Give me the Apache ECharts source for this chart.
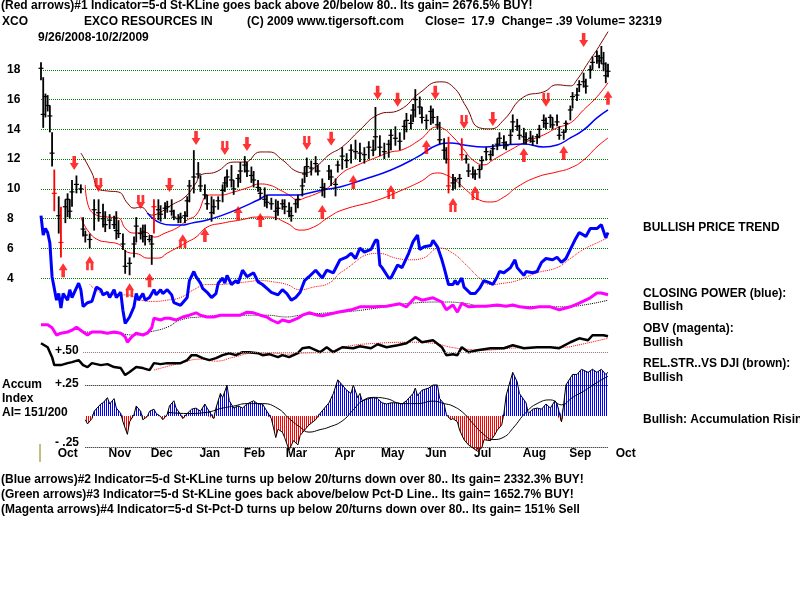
<!DOCTYPE html>
<html>
<head>
<meta charset="utf-8">
<script src="https://cdn.jsdelivr.net/npm/echarts@6/dist/echarts.min.js"></script>
<style>
html, body { margin: 0; padding: 0; background: #fff; }
#main { width: 800px; height: 600px; }
</style>
</head>
<body>
<div id="main"></div>
<script>
// x values are trading-day numbers: 0 = 9/26/2008 ... 256 = 10/2/2009
const monthStarts = [3, 26, 45, 67, 87, 106, 128, 149, 169, 191, 213, 234, 255];
const monthNames = ['Oct', 'Nov', 'Dec', 'Jan', 'Feb', 'Mar', 'Apr', 'May', 'Jun', 'Jul', 'Aug', 'Sep', 'Oct'];
const priceTicks = [4, 6, 8, 10, 12, 14, 16, 18];

// [day, high, low, close, redBar]
const bars = [
  [0,18.5,17.3,18.1,0],[1,17.5,14.1,15.0,0],[2,16.4,14.8,16.2,0],[3,16.3,15.2,15.6,0],[4,15.6,13.8,14.9,0],
  [5,13.8,11.5,12.4,0],[6,11.3,8.5,9.7,1],[8,9.5,7.0,8.2,0],[9,8.8,5.4,6.4,1],[11,9.3,7.7,8.8,0],
  [12,9.7,8.1,9.3,0],[13,9.3,8.0,8.5,0],[14,10.6,8.8,9.8,0],[16,10.9,9.7,10.3,0],[18,10.3,9.7,10.0,0],
  [19,8.1,6.8,7.3,0],[20,7.2,6.4,6.9,0],[22,7.0,6.0,6.6,0],[24,9.3,7.2,8.6,0],[26,9.3,7.8,8.4,0],
  [28,9.0,7.4,8.0,0],[29,8.5,7.1,7.6,0],[31,8.3,7.3,7.9,0],[33,8.2,7.3,7.6,0],[34,8.5,6.6,7.2,0],
  [35,7.9,6.7,7.0,0],[37,7.0,5.9,6.3,0],[38,5.9,4.3,4.8,0],[40,5.4,4.2,5.0,0],[42,6.8,5.4,6.3,0],
  [43,8.1,6.4,7.5,0],[45,7.4,6.6,7.0,0],[46,7.6,6.4,7.1,0],[47,7.6,6.2,6.8,0],[49,6.9,6.4,6.6,0],
  [50,6.9,4.9,6.3,0],[51,9.3,7.0,8.8,1],[53,9.3,7.9,8.6,0],[54,8.9,7.8,8.3,0],[56,9.1,8.0,8.7,0],
  [57,9.2,8.4,8.8,0],[59,9.3,8.2,8.5,0],[60,8.6,7.9,8.1,0],[62,8.3,7.7,8.0,0],[63,8.4,7.7,8.1,0],
  [65,8.5,7.7,8.2,0],[66,9.5,8.1,9.2,0],[67,10.6,9.1,10.2,0],[69,12.6,9.7,10.8,0],[71,11.8,10.7,11.0,0],
  [72,10.9,9.8,10.2,0],[74,10.3,9.3,9.6,0],[75,9.6,8.6,9.0,0],[77,9.5,7.8,8.4,0],[78,9.3,8.3,8.8,0],
  [80,9.5,8.6,9.2,0],[82,10.3,9.1,9.9,0],[83,10.8,9.8,10.4,0],[84,11.3,10.1,10.8,0],[86,11.6,10.1,10.6,0],
  [87,10.6,9.6,10.0,0],[89,11.0,10.1,10.7,0],[90,11.8,10.4,11.2,0],[92,12.2,11.1,11.6,0],[93,11.8,10.8,11.2,0],
  [95,11.5,10.4,10.9,0],[96,11.2,10.1,10.6,0],[98,10.6,9.8,10.1,0],[99,10.1,9.3,9.7,0],[101,10.1,8.8,9.3,0],
  [102,9.6,8.7,9.1,0],[104,9.4,8.6,9.0,0],[106,9.3,7.9,8.5,0],[107,9.2,8.2,8.7,0],[109,9.3,8.6,9.0,0],
  [110,9.3,8.3,8.8,0],[112,9.1,8.1,8.5,0],[113,8.8,7.8,8.2,0],[115,9.3,8.4,9.0,0],[116,9.6,8.7,9.3,0],
  [118,10.7,9.5,10.2,0],[119,11.5,10.4,11.0,0],[120,12.1,10.8,11.5,0],[122,11.9,10.9,11.4,0],[124,12.2,11.1,11.7,0],
  [125,11.6,10.9,11.2,0],[127,10.7,9.5,10.1,0],[128,10.4,9.4,10.0,0],[130,11.6,10.6,11.2,0],[131,11.3,10.2,10.8,0],
  [133,10.7,9.5,10.3,0],[134,11.9,11.1,11.6,0],[136,12.8,11.3,12.2,0],[138,12.4,11.4,11.9,0],[140,13.0,11.7,12.6,0],
  [142,13.3,12.0,12.5,0],[144,13.1,11.8,12.4,0],[146,12.8,11.7,12.3,0],[148,13.2,12.0,12.8,0],[150,13.3,12.2,12.6,0],
  [151,15.5,12.6,13.5,0],[153,13.6,12.2,12.8,0],[155,13.1,12.0,12.5,0],[157,13.3,12.1,13.0,0],[158,14.0,12.6,13.6,0],
  [160,14.2,12.9,13.4,0],[162,13.8,12.6,13.2,0],[164,14.6,13.3,14.2,0],[165,15.1,13.8,14.6,0],[167,15.0,14.0,14.4,0],
  [168,15.7,14.5,15.3,0],[169,16.7,14.8,16.0,0],[171,16.2,15.0,15.5,0],[172,15.5,14.4,14.8,0],[174,15.0,14.0,14.6,0],
  [176,15.6,14.3,15.2,0],[177,15.4,14.4,14.8,0],[179,14.9,14.0,14.3,0],[180,14.5,13.0,13.3,0],[182,13.4,12.0,12.6,0],
  [183,12.8,11.7,12.0,0],[184,13.5,9.7,10.2,1],[186,11.0,9.9,10.4,0],[187,10.8,10.0,10.6,0],[189,11.0,10.1,10.7,0],
  [190,13.4,11.9,12.3,1],[192,12.3,11.7,12.0,0],[193,11.7,10.8,11.2,0],[195,11.5,10.7,11.0,0],[196,11.3,10.6,11.0,0],
  [198,11.6,10.7,11.3,0],[199,12.2,11.3,11.9,0],[201,12.8,11.9,12.5,0],[203,12.6,11.9,12.3,0],[204,13.0,12.2,12.7,0],
  [206,13.4,12.6,13.0,0],[207,13.8,12.9,13.4,0],[209,13.6,12.7,13.1,0],[210,13.2,12.6,12.9,0],[212,14.0,13.0,13.6,0],
  [213,15.0,13.8,14.5,0],[215,14.7,13.9,14.2,0],[216,14.3,13.3,13.6,0],[218,14.1,13.0,13.5,0],[219,13.8,13.0,13.3,0],
  [221,13.9,13.1,13.4,0],[222,13.6,12.9,13.2,0],[224,13.7,13.0,13.5,0],[225,14.3,13.4,14.0,0],[227,15.0,14.1,14.6,0],
  [228,14.8,14.0,14.4,0],[230,15.0,14.1,14.8,0],[231,14.8,14.0,14.3,0],[233,15.0,14.2,14.5,0],[234,14.2,13.3,13.6,0],
  [236,14.0,13.3,13.8,0],[237,14.6,13.8,14.4,0],[239,15.6,14.6,15.3,0],[240,16.5,15.4,16.2,0],[242,16.8,15.9,16.3,0],
  [243,17.3,16.5,17.0,0],[245,17.8,16.8,17.2,0],[246,17.4,16.4,16.9,0],[248,18.3,17.4,18.0,0],[249,18.9,18.0,18.5,0],
  [251,19.3,18.4,18.9,0],[252,19.0,18.1,18.6,0],[253,19.6,18.4,18.8,0],[254,19.2,17.9,18.4,0],[255,18.5,17.1,17.6,0],
  [256,18.4,17.5,17.9,0]
];

const upperBand = [[18,12.41],[23,11.07],[26,9.99],[30,9.86],[35,9.79],[39,9.05],[42,8.71],[45,8.78],[50,8.24],[54,8.44],[59,8.92],[65,9.45],[70,10.4],[72,10.93],[79,11.14],[87,11.8],[92,11.8],[99,12.48],[103,12.48],[109,11.94],[116,11.14],[119,11.07],[125,11.6],[130,12.28],[136,12.82],[144,13.96],[152,14.97],[162,15.31],[171,16.45],[180,17.19],[186,16.86],[192,15.51],[198,14.1],[203,14.03],[209,14.64],[218,16.18],[227,16.52],[233,16.99],[239,16.92],[242,17.33],[247,18.47],[251,19.35],[256,20.56]];
const middleBand = [[20,10.26],[21,9.05],[25,8.24],[30,8.11],[35,8.04],[38,7.37],[42,7.03],[47,7.1],[51,6.76],[56,7.03],[62,7.43],[66,7.91],[70,8.24],[76,9.59],[81,9.59],[87,9.79],[93,10.06],[99,10.33],[103,10.26],[108,9.92],[112,9.59],[116,9.25],[119,9.39],[125,9.72],[130,10.13],[136,11.07],[141,11.47],[152,12.15],[158,12.48],[163,12.62],[171,13.29],[179,14.16],[181,14.1],[186,13.49],[191,12.62],[195,11.94],[200,11.61],[204,11.94],[212,12.62],[218,13.09],[227,13.63],[233,14.1],[239,14.43],[245,15.31],[251,16.18],[256,17.13]];
const lowerBand = [[18,8.11],[21,7.23],[26,6.56],[30,6.43],[35,6.29],[39,5.75],[44,5.62],[48,5.35],[53,5.35],[57,5.69],[62,6.09],[66,6.43],[70,6.76],[75,7.43],[82,7.7],[90,7.91],[98,8.11],[103,8.11],[111,7.7],[117,7.23],[123,7.43],[130,8.11],[136,8.58],[152,9.25],[163,9.92],[171,10.46],[179,11.07],[183,10.93],[188,10.46],[192,9.92],[198,9.25],[203,9.12],[209,9.45],[215,10.13],[224,10.8],[233,11.14],[239,11.4],[245,11.94],[251,12.82],[256,13.42]];
const priceMA = [[48,8.38],[54,7.7],[59,7.57],[63,7.57],[68,7.7],[75,7.91],[82,8.24],[90,8.71],[98,9.25],[103,9.59],[109,9.59],[116,9.59],[121,9.72],[127,9.92],[135,10.13],[145,10.6],[158,11.27],[170,12.15],[179,12.95],[185,13.09],[191,12.95],[200,12.82],[209,12.95],[218,13.02],[227,12.82],[233,12.95],[239,13.42],[245,13.96],[251,14.77],[256,15.31]];

const sellArrows = [[15,11.74],[58,10.26],[70,13.42],[93,13.02],[131,13.36],[152,16.45],[161,15.98],[178,16.45],[204,14.7],[245,20.0]];
const sellArrows2 = [[26,10.26],[45,9.12],[83,12.75],[120,13.09],[191,14.5],[228,15.98]];
const buyArrows = [[10,4.54],[49,3.87],[74,6.9],[89,8.38],[99,7.91],[127,8.44],[141,10.46],[174,12.82],[218,12.28],[236,12.41],[256,16.12]];
const buyArrows2 = [[22,5.01],[40,3.2],[64,6.49],[158,9.79],[186,8.92],[196,9.72]];

const closingPower = [[0,88],[1,73],[2,78],[3,75],[4,67],[5,41],[7,23],[8,28],[9,17],[10,28],[12,23],[13,31],[14,25],[17,36],[18,31],[19,18],[21,21],[23,22],[25,33],[27,31],[28,27],[30,29],[31,25],[33,31],[34,25],[36,29],[37,15],[38,5],[40,10],[42,18],[43,28],[44,23],[46,28],[47,23],[49,25],[51,31],[52,27],[54,31],[55,28],[57,31],[59,27],[60,21],[63,19],[64,21],[66,25],[67,38],[69,45],[70,41],[72,36],[73,32],[75,29],[77,25],[79,28],[80,36],[82,40],[83,36],[84,42],[86,35],[88,38],[89,36],[91,46],[93,41],[96,44],[98,37],[100,35],[102,32],[104,29],[107,27],[109,31],[111,28],[113,23],[115,25],[117,29],[119,38],[121,41],[124,46],[127,40],[129,46],[132,44],[135,54],[138,56],[140,59],[142,55],[144,63],[146,60],[149,62],[151,69],[152,69],[153,50],[154,48],[157,40],[158,40],[161,50],[163,48],[166,59],[168,68],[170,73],[171,62],[173,64],[176,65],[177,69],[179,64],[181,54],[182,48],[184,35],[186,35],[187,38],[188,35],[190,40],[191,33],[194,28],[196,28],[198,32],[200,38],[203,36],[204,35],[206,41],[207,45],[209,44],[212,48],[214,54],[215,48],[218,42],[219,45],[222,44],[224,45],[226,52],[228,55],[231,54],[233,56],[235,52],[237,55],[239,62],[241,69],[243,75],[246,72],[248,78],[251,78],[253,81],[255,71],[256,75]];
const closingPowerMA = [[22,35],[31,27],[39,27],[45,23],[51,22],[57,23],[63,25],[69,31],[75,35],[81,35],[87,36],[93,37],[99,38],[105,37],[111,35],[117,31],[123,33],[130,36],[136,45],[152,59],[161,55],[167,54],[172,55],[180,63],[186,59],[192,50],[198,40],[203,35],[209,36],[215,38],[224,44],[233,48],[239,55],[245,62],[251,67],[256,71]];

const obv = [[0,42],[3,42],[5,37],[7,25],[9,28],[12,30],[14,33],[16,38],[19,30],[21,25],[23,30],[27,30],[30,28],[33,30],[36,28],[38,22],[39,13],[41,22],[43,28],[46,25],[48,28],[50,37],[51,53],[54,50],[56,53],[58,53],[61,50],[64,55],[67,58],[70,62],[72,58],[75,55],[78,55],[81,58],[84,58],[87,58],[90,58],[93,63],[96,62],[99,58],[102,55],[104,50],[107,45],[109,50],[112,47],[116,53],[118,58],[121,62],[125,58],[127,57],[134,63],[140,67],[144,72],[150,72],[156,73],[162,77],[165,72],[169,88],[172,83],[177,87],[181,80],[183,67],[186,75],[188,63],[190,78],[193,72],[197,73],[201,73],[206,75],[210,73],[213,75],[216,72],[221,70],[225,72],[230,72],[234,67],[239,72],[243,78],[248,87],[251,95],[253,95],[256,92]];
const obvMA = [[19,30],[34,28],[42,25],[49,30],[57,38],[63,50],[72,55],[87,58],[102,58],[111,55],[117,58],[130,62],[136,63],[152,70],[167,78],[182,80],[191,78],[200,73],[212,73],[227,72],[236,72],[245,75],[256,83]];

const relStrength = [[0,.552],[3,.528],[5,.468],[6,.42],[9,.42],[12,.432],[14,.438],[17,.45],[19,.42],[21,.408],[23,.432],[27,.42],[30,.426],[33,.408],[36,.402],[38,.36],[40,.378],[43,.408],[46,.402],[49,.39],[51,.432],[54,.426],[57,.432],[60,.432],[63,.432],[66,.45],[68,.48],[70,.48],[73,.462],[76,.45],[79,.462],[82,.48],[85,.492],[88,.48],[91,.498],[94,.498],[98,.492],[100,.48],[103,.486],[107,.468],[109,.48],[112,.468],[116,.492],[118,.522],[121,.528],[126,.498],[129,.528],[132,.498],[136,.528],[141,.522],[144,.534],[149,.522],[152,.546],[156,.528],[161,.54],[165,.552],[169,.588],[172,.558],[177,.57],[181,.528],[183,.48],[186,.486],[188,.48],[190,.528],[193,.498],[197,.51],[203,.522],[209,.522],[213,.54],[218,.522],[224,.528],[230,.528],[234,.522],[239,.558],[243,.582],[247,.57],[249,.6],[254,.6],[256,.594]];
const relStrengthMA = [[51,.39],[63,.432],[72,.456],[79,.444],[87,.468],[96,.492],[105,.492],[111,.486],[117,.492],[130,.498],[136,.528],[152,.552],[167,.558],[177,.552],[185,.528],[192,.516],[200,.51],[212,.522],[227,.528],[236,.528],[242,.54],[256,.582]];

const accum = [[20,-.03],[21,-.064],[23,-.021],[24,.038],[27,.097],[28,.106],[30,.148],[31,.097],[33,.14],[34,.064],[36,.021],[37,-.047],[39,-.148],[40,-.047],[42,.013],[43,.081],[45,.038],[46,-.03],[48,-.004],[49,.038],[51,.055],[52,.021],[54,-.004],[55,-.03],[57,.013],[58,.081],[60,.123],[61,.064],[63,.013],[64,-.021],[66,.021],[68,.055],[70,.064],[72,.038],[74,.097],[75,.064],[78,-.021],[79,.064],[81,.182],[82,.148],[84,.25],[85,.123],[87,.064],[89,.081],[91,.064],[93,.097],[96,.123],[98,.097],[100,.097],[102,.038],[104,-.021],[106,-.174],[107,-.106],[109,-.131],[110,-.174],[112,-.275],[114,-.199],[116,-.233],[117,-.157],[119,-.114],[121,-.072],[124,-.03],[126,.021],[128,.064],[130,.106],[132,.182],[134,.292],[136,.25],[138,.208],[140,.182],[141,.25],[143,.148],[144,.182],[145,.123],[148,.14],[150,.148],[152,.14],[154,.106],[156,.097],[158,.106],[161,.106],[163,.097],[165,.123],[168,.182],[169,.225],[170,.165],[172,.208],[175,.225],[177,.25],[179,.25],[180,.14],[182,.097],[183,.013],[185,-.03],[186,-.021],[188,-.047],[189,-.114],[191,-.191],[193,-.233],[195,-.258],[197,-.284],[199,-.258],[200,-.191],[203,-.199],[205,-.148],[206,-.114],[208,-.072],[209,.021],[210,.165],[212,.292],[213,.352],[215,.275],[216,.182],[219,.106],[220,.021],[222,.055],[224,.064],[226,.055],[228,.097],[230,.064],[232,.123],[233,.097],[235,-.047],[236,.097],[237,.25],[240,.335],[242,.335],[244,.377],[247,.352],[249,.377],[251,.352],[253,.377],[255,.335],[256,.352]];
const accumMA = [[57,.03],[66,.02],[75,.03],[81,.06],[87,.08],[93,.1],[100,.1],[107,.06],[112,-.02],[117,-.09],[121,-.13],[126,-.11],[130,-.09],[136,-.04],[141,.05],[145,.12],[150,.15],[156,.14],[163,.1],[170,.1],[177,.12],[182,.1],[186,.08],[191,.02],[195,-.06],[200,-.15],[204,-.19],[209,-.17],[213,-.1],[219,.03],[224,.1],[230,.13],[235,.09],[240,.15],[245,.2],[251,.27],[256,.32]];

const headerLines = [
  ['(Red arrows)#1 Indicator=5-d St-KLine goes back above 20/below 80.. Its gain= 2676.5% BUY!', 1, 7],
  ['XCO', 2, 23], ['EXCO RESOURCES IN', 84, 23], ['(C) 2009 www.tigersoft.com', 247, 23],
  ['Close=  17.9  Change= .39 Volume= 32319', 425, 23],
  ['9/26/2008-10/2/2009', 38, 39]
];
const footerLines = [
  ['(Blue arrows)#2 Indicator=5-d St-KLine turns up below 20/turns down over 80.. Its gain= 2332.3% BUY!', 1, 481],
  ['(Green arrows)#3 Indicator=5-d St-KLine goes back above/below Pct-D Line.. Its gain= 1652.7% BUY!', 1, 496],
  ['(Magenta arrows)#4 Indicator=5-d St-Pct-D turns up below 20/turns down over 80.. Its gain= 151% Sell', 1, 511]
];
const sideNotes = [
  ['BULLISH PRICE TREND', 643, 229],
  ['CLOSING POWER (blue):', 643, 295], ['Bullish', 643, 308],
  ['OBV (magenta):', 643, 330], ['Bullish', 643, 344],
  ['REL.STR..VS DJI (brown):', 643, 365], ['Bullish', 643, 379],
  ['Bullish: Accumulation Rising', 643, 421],
  ['Accum', 2, 386], ['Index', 2, 400], ['AI= 151/200', 2, 414],
  ['+.50', 55, 352], ['+.25', 55, 385], ['- .25', 55, 444]
];

const FONT = 'Liberation Sans';
const LAST = 256;

const arrowDown = 'path://M3,0 L7,0 L7,7 L10,7 L5,14 L0,7 L3,7 Z';
const arrowUp = 'path://M3,14 L7,14 L7,7 L10,7 L5,0 L0,7 L3,7 Z';
const arrowDown2 = 'path://M1,0 L4,0 L4,7 L6,7 L6,0 L9,0 L9,7 L10,7 L5,14 L0,7 L1,7 Z';
const arrowUp2 = 'path://M1,14 L4,14 L4,7 L6,7 L6,14 L9,14 L9,7 L10,7 L5,0 L0,7 L1,7 Z';

function stripes(color) {
  const c = document.createElement('canvas');
  c.width = 2; c.height = 2;
  const g = c.getContext('2d');
  g.fillStyle = color;
  g.fillRect(0, 0, 1, 2);
  return { image: c, repeat: 'repeat' };
}

function renderBar(params, api) {
  const d = api.value(0);
  const hi = api.coord([d, api.value(1)]);
  const lo = api.coord([d, api.value(2)]);
  const cl = api.coord([d, api.value(3)]);
  const color = api.value(4) ? '#ff0000' : '#000000';
  return {
    type: 'group',
    children: [
      { type: 'line', shape: { x1: hi[0], y1: hi[1], x2: lo[0], y2: lo[1] }, style: { stroke: color, lineWidth: 1.8 } },
      { type: 'line', shape: { x1: cl[0] - 2.5, y1: cl[1], x2: cl[0] + 2.5, y2: cl[1] }, style: { stroke: color, lineWidth: 1.2 } }
    ]
  };
}

function textItems(list) {
  return list.map(t => ({
    type: 'text', left: t[1], top: t[2] - 7, silent: true,
    style: { text: t[0], font: 'bold 12px "' + FONT + '"', fill: '#000' }
  }));
}

function lineSeries(data, grid, color, width, type, extra) {
  return Object.assign({
    type: 'line', data: data, xAxisIndex: grid, yAxisIndex: grid,
    showSymbol: false, symbol: 'none', smooth: false, clip: false,
    lineStyle: { color: color, width: width, type: type || 'solid' },
    emphasis: { disabled: true }, z: 3
  }, extra || {});
}

function arrowSeries(data, path) {
  return {
    type: 'scatter', data: data, xAxisIndex: 0, yAxisIndex: 0,
    symbol: path, symbolSize: [9, 14], clip: false,
    itemStyle: { color: '#ff0000' }, z: 6, emphasis: { disabled: true }
  };
}

const hiddenX = i => ({ gridIndex: i, type: 'value', min: 0, max: LAST, show: false });
const hiddenY = (i, min, max) => ({ gridIndex: i, type: 'value', min: min, max: max, show: false });

const chart = echarts.init(document.getElementById('main'), null, { renderer: 'canvas' });
chart.setOption({
  animation: false,
  backgroundColor: '#ffffff',
  grid: [
    { left: 41, right: 192, top: 40, height: 268, outerBoundsMode: 'none' },   // price
    { left: 41, right: 192, top: 200, height: 130, outerBoundsMode: 'none' },  // closing power
    { left: 41, right: 192, top: 290, height: 60, outerBoundsMode: 'none' },   // OBV
    { left: 41, right: 192, top: 327, height: 58, outerBoundsMode: 'none' },   // rel. strength
    { left: 41, right: 192, top: 385, height: 62, outerBoundsMode: 'none' }    // accumulation
  ],
  xAxis: [
    hiddenX(0), hiddenX(1), hiddenX(2), hiddenX(3),
    {
      gridIndex: 4, type: 'value', min: 0, max: LAST,
      axisLine: { show: false }, axisTick: { show: false }, splitLine: { show: false },
      axisLabel: {
        customValues: monthStarts,
        formatter: v => monthNames[monthStarts.indexOf(v)],
        align: 'left', padding: [0, 0, 0, 10], margin: 1,
        color: '#000', fontWeight: 'bold', fontSize: 12, fontFamily: FONT
      }
    }
  ],
  yAxis: [
    {
      gridIndex: 0, type: 'value', min: 2, max: 20, interval: 2,
      axisLine: { show: false }, axisTick: { show: false },
      axisLabel: {
        formatter: v => priceTicks.includes(v) ? String(v) : '',
        align: 'left', margin: 34,
        color: '#000', fontWeight: 'bold', fontSize: 12, fontFamily: FONT
      },
      splitLine: { show: true, showMinLine: false, showMaxLine: false, lineStyle: { type: 'dotted', color: '#008000', width: 1 } }
    },
    hiddenY(1, 0, 100), hiddenY(2, 0, 100), hiddenY(3, 0.3, 0.65), hiddenY(4, -0.25, 0.25)
  ],
  graphic: textItems(headerLines).concat(textItems(footerLines), textItems(sideNotes), [
    { type: 'line', silent: true, shape: { x1: 40, y1: 444, x2: 40, y2: 462 }, style: { stroke: '#808000', lineWidth: 1 } }
  ]),
  series: [
    lineSeries(upperBand, 0, '#800000', 1, 'solid', { smooth: true }),
    lineSeries(middleBand, 0, '#ff0000', 1, 'solid', { smooth: true }),
    lineSeries(lowerBand, 0, '#ff0000', 1, 'solid', { smooth: true }),
    lineSeries(priceMA, 0, '#0000ff', 1.5, 'solid', { smooth: true }),
    {
      type: 'custom', data: bars, xAxisIndex: 0, yAxisIndex: 0,
      renderItem: renderBar, encode: { x: 0, y: [1, 2, 3] }, clip: false, z: 4, silent: true
    },
    arrowSeries(sellArrows, arrowDown),
    arrowSeries(sellArrows2, arrowDown2),
    arrowSeries(buyArrows, arrowUp),
    arrowSeries(buyArrows2, arrowUp2),

    lineSeries(closingPowerMA, 1, '#ff0000', 1, 'dotted', { smooth: true }),
    lineSeries(closingPower, 1, '#0000ff', 3),

    lineSeries(obvMA, 2, '#000000', 1, 'dotted', { smooth: true }),
    lineSeries(obv, 2, '#ff00ff', 3),

    lineSeries(relStrengthMA, 3, '#ff0000', 1, 'dotted', { smooth: true }),
    lineSeries(relStrength, 3, '#000000', 2.5, 'solid', {
      markLine: {
        silent: true, symbol: 'none', label: { show: false },
        lineStyle: { type: 'dotted', color: '#a07070', width: 1 },
        data: [[{ coord: [19, 0.5] }, { coord: [LAST, 0.5] }]]
      }
    }),

    lineSeries(accum.map(d => [d[0], Math.max(d[1], 0)]), 4, '#0000ff', 0, 'solid', {
      areaStyle: { color: stripes('#0000ff'), opacity: 1 }, z: 2
    }),
    lineSeries(accum.map(d => [d[0], Math.min(d[1], 0)]), 4, '#ff0000', 0, 'solid', {
      areaStyle: { color: stripes('#ff0000'), opacity: 1 }, z: 2
    }),
    lineSeries(accumMA, 4, '#000000', 1, 'solid', { smooth: true }),
    lineSeries(accum, 4, '#000000', 1, 'solid', {
      markLine: {
        silent: true, symbol: 'none', label: { show: false },
        lineStyle: { type: 'dotted', color: '#000000', width: 1 },
        data: [
          [{ coord: [20, 0.25] }, { coord: [LAST, 0.25] }],
          [{ coord: [20, -0.25] }, { coord: [LAST, -0.25] }]
        ]
      }
    })
  ]
});
</script>
</body>
</html>
